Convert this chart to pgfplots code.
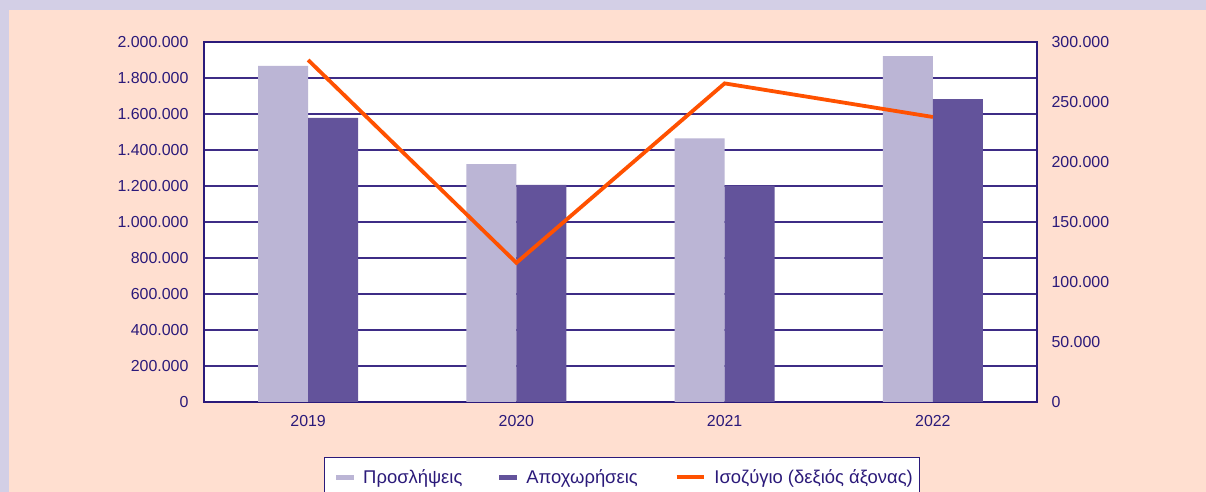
\documentclass[border=0pt]{standalone}
\usepackage{pgfplots}
\pgfplotsset{compat=1.18}
\usepackage{fontspec}
\setmainfont{Liberation Sans}
\definecolor{lavbg}{HTML}{D3CFE6}
\definecolor{peach}{HTML}{FFDFD0}
\definecolor{lightbar}{HTML}{BBB5D5}
\definecolor{darkbar}{HTML}{63539B}
\definecolor{orangeline}{HTML}{FF5100}
\definecolor{ink}{HTML}{2B1A7A}
\definecolor{gridc}{HTML}{3E2C86}
\begin{document}
\begin{tikzpicture}
\fill[lavbg] (0,0) rectangle (1206bp,492bp);
\fill[peach] (9bp,0) rectangle (1206bp,482bp);
\pgfplotsset{
  common/.style={
    at={(204bp,90bp)}, anchor=south west,
    scale only axis, width=833bp, height=360bp,
    xmin=0, xmax=4,
    axis line style={draw=ink, line width=1.3bp},
    major tick length=0pt,
    tick style={draw=none},
    ticklabel style={font=\fontsize{16}{19}\selectfont, text=ink},
    /pgf/number format/assume math mode=true,
    /pgf/number format/.cd, fixed, 1000 sep={.}, /pgfplots/.cd,
    scaled y ticks=false,
  }
}
\begin{axis}[common,
  ymin=0, ymax=2000000,
  ytick={0,200000,...,2000000},
  xtick={0.5,1.5,2.5,3.5},
  xticklabels={2019,2020,2021,2022},
  xticklabel style={yshift=-10bp},
  yticklabel style={xshift=-12bp},
  axis background/.style={fill=white},
  axis on top=false,
  ymajorgrids, grid style={draw=gridc, line width=1.3bp},
  legend style={at={(0.5018,-0.1528)}, anchor=north, draw=ink, line width=0.8bp, fill=white,
    font=\fontsize{18.5}{22}\selectfont, text=ink, inner xsep=5bp, inner ysep=10bp,
    /tikz/every odd column/.append style={column sep=7bp},
    /tikz/every even column/.append style={column sep=28bp}},
  legend columns=3,
  legend cell align=left,
]
\addplot[ybar, bar width=50bp, bar shift=-25bp, fill=lightbar, draw=none,
  legend image code/.code={\path (-7bp,0bp); \fill[lightbar] (0bp,-2.5bp) rectangle (18bp,2.5bp);}]
  coordinates {(0.5,1868000) (1.5,1321000) (2.5,1465000) (3.5,1922000)};
\addlegendentry{Προσλήψεις}
\addplot[ybar, bar width=50bp, bar shift=25bp, fill=darkbar, draw=none,
  legend image code/.code={\path (-7bp,0bp); \fill[darkbar] (0bp,-2.5bp) rectangle (18bp,2.5bp);}]
  coordinates {(0.5,1579000) (1.5,1206000) (2.5,1202000) (3.5,1682000)};
\addlegendentry{Αποχωρήσεις}
\addlegendimage{orangeline, line width=3.6bp, legend image code/.code={\path (-7bp,0bp); \draw[orangeline, line width=3.6bp] (0bp,0bp) -- (27bp,0bp);}}
\addlegendentry{Ισοζύγιο (δεξιός άξονας)}
\end{axis}
\begin{axis}[common,
  ymin=0, ymax=300000,
  ytick={0,50000,...,300000},
  xtick=\empty,
  axis y line*=right, axis x line=none,
  yticklabel style={xshift=11bp, anchor=west},
]
\addplot[orangeline, line width=3.8bp, line join=miter]
  coordinates {(0.5,285000) (1.5,116000) (2.5,265500) (3.5,237500)};
\end{axis}
\pgfresetboundingbox
\path[use as bounding box] (0,0) rectangle (1206bp,492bp);
\end{tikzpicture}
\end{document}
